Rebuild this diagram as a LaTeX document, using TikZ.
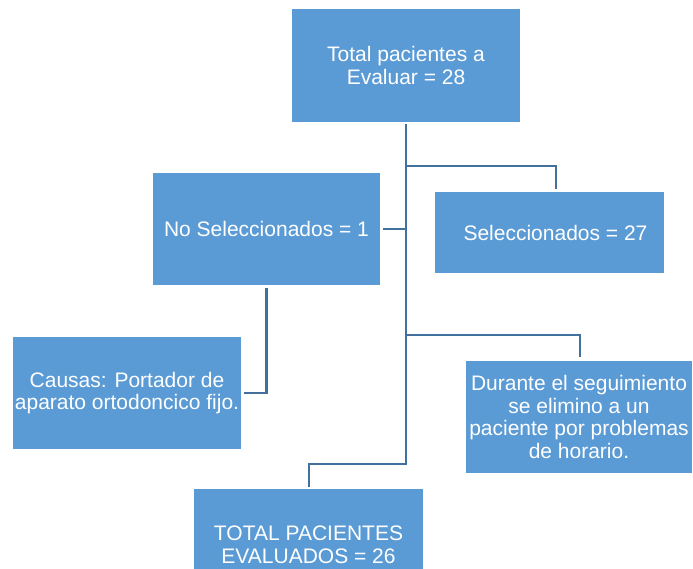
\documentclass[tikz,border=0pt]{standalone}
\usepackage{fontspec}
\setmainfont{Liberation Sans}
\definecolor{boxblue}{HTML}{5B9BD5}
\definecolor{lineblue}{HTML}{41719C}
\begin{document}
\begin{tikzpicture}[x=1pt,y=1pt,
  box/.style={fill=boxblue, draw=none, text=white, align=center, inner sep=0pt,
    font=\fontsize{21}{22.5}\selectfont},
  conn/.style={draw=lineblue, line width=2.5pt}]
\useasboundingbox (0,0) rectangle (693,-569);
\node[box, minimum width=228, minimum height=113] (top) at (406,-65.5) {Total pacientes a\\Evaluar = 28};
\node[box, minimum width=227, minimum height=112] (nosel) at (266.5,-229) {No Seleccionados = 1};
\node[box, minimum width=229, minimum height=81] (sel) at (549.5,-232.5) {\hspace{12pt}Seleccionados = 27};
\node[box, minimum width=228, minimum height=112] (causas) at (127,-393) {Causas: Portador de\\aparato ortodoncico fijo.};
\node[box, minimum width=226, minimum height=112] (durante) at (579,-417) {Durante el seguimiento\\se elimino a un\\paciente por problemas\\de horario.};
\node[box, minimum width=229, minimum height=112] (total) at (308.5,-545) {TOTAL PACIENTES\\EVALUADOS = 26};
\coordinate (js) at (406,-166);
\coordinate (jn) at (406,-229);
\coordinate (jd) at (406,-335);
\coordinate (jt) at (406,-464);
\coordinate (es) at (556,-189);
\coordinate (ed) at (580,-357);
\coordinate (et) at (309,-487);
\draw[conn] ([yshift=-2pt]top.south) -- (jt) -| (et);
\draw[conn] (js) -| (es);
\draw[conn] (jn) -- ([xshift=3pt]nosel.east);
\draw[conn] (jd) -| (ed);
\draw[conn] ([yshift=-3pt]nosel.south) |- ([xshift=3pt]causas.east);
\end{tikzpicture}
\end{document}
